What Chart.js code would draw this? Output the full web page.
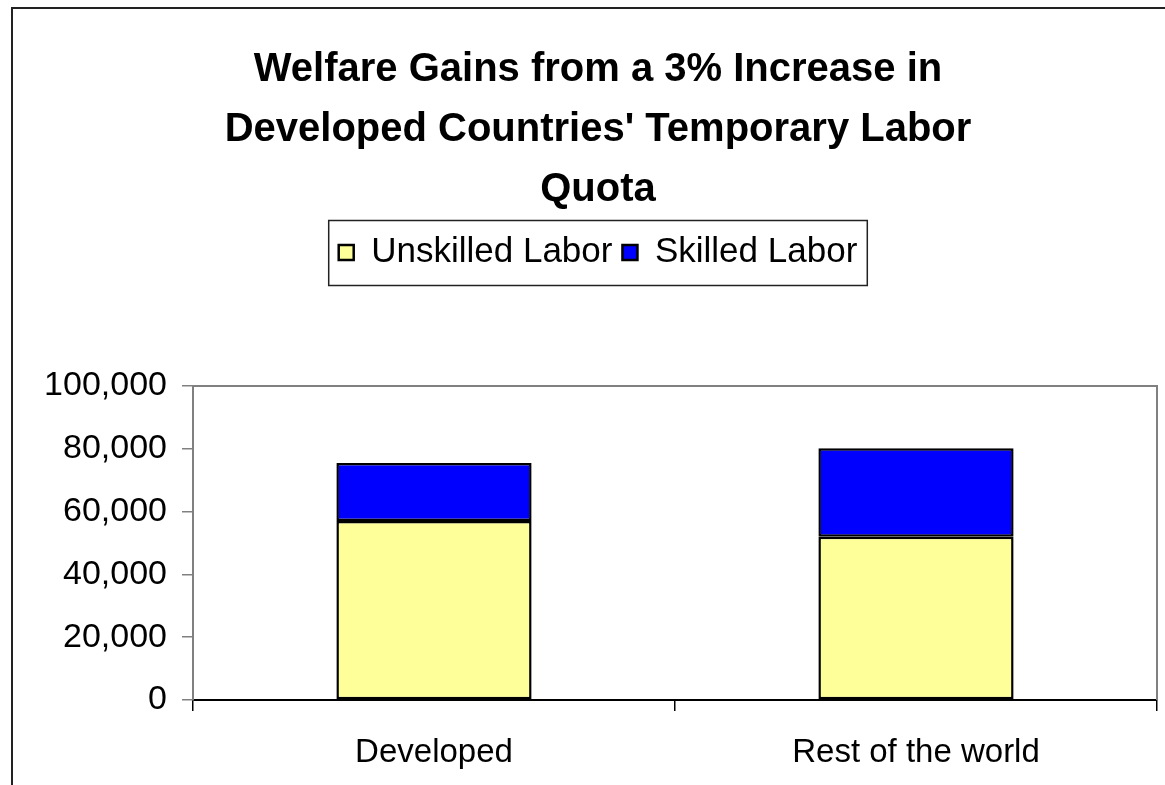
<!DOCTYPE html>
<html>
<head>
<meta charset="utf-8">
<title>Welfare Gains</title>
<script src="https://cdn.jsdelivr.net/npm/chart.js@4/dist/chart.umd.min.js"></script>
<style>
  html, body { margin: 0; padding: 0; background: #fff; overflow: hidden; }
  canvas { display: block; }
</style>
</head>
<body>
<canvas id="welfareChart" width="1165" height="785"></canvas>
<script>
// data
const categories = ['Developed', 'Rest of the world'];
const unskilledLabor = [57000, 52000];
const skilledLabor = [18500, 28200];
const yMax = 100000;
const yStep = 20000;

const FONT = "'Liberation Sans', Arial, sans-serif";
Chart.defaults.color = '#000';
Chart.defaults.font.family = FONT;

// outer frame + white background
const frame = {
    id: 'frame',
    beforeDraw(chart) {
        const ctx = chart.ctx;
        ctx.save();
        ctx.fillStyle = '#fff';
        ctx.fillRect(0, 0, chart.width, chart.height);
        ctx.strokeStyle = '#222';
        ctx.lineWidth = 2;
        ctx.strokeRect(12, 8, chart.width + 50, chart.height + 50);
        ctx.restore();
    },
    afterDraw(chart) {
        // grey top/right edges of the plot area
        const a = chart.chartArea, ctx = chart.ctx;
        ctx.save();
        ctx.strokeStyle = '#808080';
        ctx.lineWidth = 2;
        ctx.beginPath();
        ctx.moveTo(a.left, a.top);
        ctx.lineTo(a.right, a.top);
        ctx.lineTo(a.right, a.bottom);
        ctx.stroke();
        ctx.restore();
    }
};

// box around the legend, plus extra space below it
const legendBox = {
    id: 'legendBox',
    beforeInit(chart) {
        const fit = chart.legend.fit;
        chart.legend.fit = function () {
            fit.bind(chart.legend)();
            this.height += 106;
        };
    },
    afterDraw(chart) {
        const hb = chart.legend.legendHitBoxes;
        if (!hb || !hb.length) return;
        const first = hb[0], last = hb[hb.length - 1];
        const mid = first.top + first.height / 2;
        const ctx = chart.ctx;
        ctx.save();
        ctx.strokeStyle = '#222';
        ctx.lineWidth = 1.5;
        ctx.strokeRect(first.left - 10, mid - 32, last.left + last.width - first.left + 20, 65);
        ctx.restore();
    }
};

new Chart(document.getElementById('welfareChart'), {
    type: 'bar',
    data: {
        labels: categories,
        datasets: [{
            label: 'Unskilled Labor',
            data: unskilledLabor,
            backgroundColor: '#FFFF99',
            borderColor: '#000',
            borderWidth: 2.5,
            borderSkipped: false
        }, {
            label: 'Skilled Labor',
            data: skilledLabor,
            backgroundColor: '#0000FF',
            borderColor: '#000',
            borderWidth: 2.5,
            borderSkipped: false
        }]
    },
    options: {
        responsive: false,
        animation: false,
        layout: { padding: { left: 39, right: 8, top: 0, bottom: 0 } },
        datasets: {
            bar: { categoryPercentage: 1, barPercentage: 0.405 }
        },
        plugins: {
            title: {
                display: true,
                text: ['Welfare Gains from a 3% Increase in', "Developed Countries' Temporary Labor", 'Quota'],
                font: { size: 40, weight: 'bold', lineHeight: 1.5 },
                color: '#000',
                padding: { top: 40, bottom: 5 }
            },
            legend: {
                display: true,
                position: 'top',
                labels: {
                    font: { size: 35 },
                    boxWidth: 15,
                    boxHeight: 15,
                    padding: 10,
                    color: '#000'
                }
            },
            tooltip: { enabled: false }
        },
        scales: {
            x: {
                stacked: true,
                grid: { drawOnChartArea: false, offset: true, tickLength: 11, color: '#000', lineWidth: 1.5 },
                border: { color: '#000', width: 2 },
                ticks: { font: { size: 33 }, padding: 22, color: '#000' },
                afterFit(scale) { scale.height = 85; }
            },
            y: {
                stacked: true,
                min: 0,
                max: yMax,
                ticks: { stepSize: yStep, font: { size: 34 }, padding: 15, color: '#000' },
                grid: { drawOnChartArea: false, tickLength: 11, color: '#808080', lineWidth: 1.5 },
                border: { color: '#808080', width: 2 },
                afterFit(scale) { scale.width = 154; }
            }
        }
    },
    plugins: [frame, legendBox]
});
</script>
</body>
</html>
